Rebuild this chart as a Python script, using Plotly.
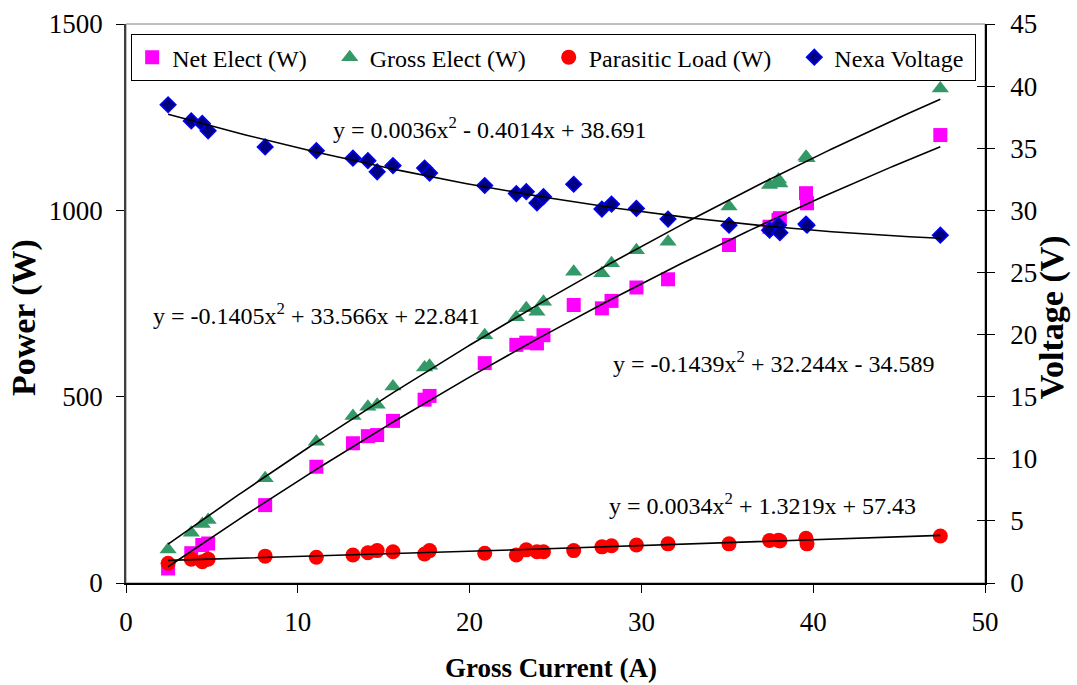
import numpy as np
import plotly.graph_objects as go

# Gross stack current (A), shared by every series
gross_current = [2.45, 3.8, 4.44, 4.78, 8.1, 11.08, 13.21, 14.08, 14.62, 15.54,
                 17.38, 17.67, 20.88, 22.72, 23.3, 23.92, 24.3, 26.06, 27.7, 28.26,
                 29.71, 31.55, 35.1, 37.46, 37.98, 38.06, 39.58, 39.64, 47.4]

# Power series (W)
net_elect = [39, 80, 102, 106, 209, 312, 375, 394, 397, 435,
             492, 502, 590, 639, 645, 643, 665, 746, 737, 757,
             793, 815, 907, 956, 974, 979, 1046, 1019, 1202]
gross_elect = [90, 135, 158, 169, 281, 379, 448, 473, 478, 527,
               578, 583, 665, 713, 737, 728, 755, 835, 831, 858,
               893, 916, 1010, 1068, 1083, 1072, 1144, 1140, 1327]
parasitic_load = [53, 64, 57, 64, 72, 69, 75, 81, 87, 84,
                  78, 87, 80, 75, 89, 84, 84, 87, 97, 100,
                  102, 105, 105, 114, 115, 113, 120, 105, 126]

# Stack voltage (V)
nexa_voltage = [38.5, 37.2, 37.0, 36.4, 35.1, 34.8, 34.2, 34.0, 33.1, 33.6,
                33.4, 33.0, 32.0, 31.35, 31.5, 30.6, 31.1, 32.1, 30.1, 30.5,
                30.15, 29.3, 28.8, 28.4, 28.8, 28.2, 28.9, 28.8, 28.0]

# Second-order trendline coefficients [a, b, c] for y = a x^2 + b x + c
fit_voltage = [0.0036, -0.4014, 38.691]
fit_gross = [-0.1405, 33.566, 22.841]
fit_net = [-0.1439, 32.244, -34.589]
fit_parasitic = [0.0034, 1.3219, 57.43]

x_ticks = [0, 10, 20, 30, 40, 50]
power_ticks = [0, 500, 1000, 1500]
voltage_ticks = [0, 5, 10, 15, 20, 25, 30, 35, 40, 45]

SERIF = "Liberation Serif, Times New Roman, serif"
NB = "\u00a0"


def equation_text(coef):
    a, b, c = coef

    def term(v, first=False):
        s = f"{abs(v):g}"
        if first:
            return ("-" if v < 0 else "") + s
        return (" - " if v < 0 else " + ") + s

    return f"y = {term(a, True)}x<sup>2</sup>{term(b)}x{term(c)}"


xs = np.array(gross_current)
x_fit = np.linspace(xs.min(), xs.max(), 200)

fig = go.Figure()

fig.add_trace(go.Scatter(
    x=gross_current, y=net_elect, mode="markers", name="Net Elect (W)" + NB * 3,
    marker=dict(symbol="square", size=14, color="#FF00FF"), cliponaxis=False))
fig.add_trace(go.Scatter(
    x=gross_current, y=gross_elect, mode="markers", name="Gross Elect (W)" + NB * 3,
    marker=dict(symbol="triangle-up", size=15, color="#339966"), cliponaxis=False))
fig.add_trace(go.Scatter(
    x=gross_current, y=parasitic_load, mode="markers", name="Parasitic Load (W)" + NB * 3,
    marker=dict(symbol="circle", size=15, color="#FF0000"), cliponaxis=False))
fig.add_trace(go.Scatter(
    x=gross_current, y=nexa_voltage, mode="markers", name="Nexa Voltage" + NB, yaxis="y2",
    marker=dict(symbol="diamond", size=12, color="#000080",
                line=dict(color="#0000FF", width=1.5)), cliponaxis=False))

# Trendlines drawn over the markers
for coef, axis in [(fit_net, "y"), (fit_gross, "y"), (fit_parasitic, "y"), (fit_voltage, "y2")]:
    fig.add_trace(go.Scatter(
        x=x_fit, y=np.polyval(coef, x_fit), mode="lines", yaxis=axis,
        line=dict(color="black", width=1.6), showlegend=False, hoverinfo="skip"))

# Invisible carrier so the inner tick marks of the right axis render
fig.add_trace(go.Scatter(x=[None], y=[None], yaxis="y3", showlegend=False, hoverinfo="skip"))

# Trendline equations placed in paper coordinates
eq_labels = [
    (fit_voltage, 0.239, 0.814),
    (fit_gross, 0.029, 0.482),
    (fit_net, 0.565, 0.396),
    (fit_parasitic, 0.560, 0.141),
]
for coef, ax_, ay_ in eq_labels:
    fig.add_annotation(
        text=equation_text(coef), xref="paper", yref="paper", x=ax_, y=ay_,
        xanchor="left", yanchor="middle", showarrow=False,
        font=dict(family=SERIF, size=24, color="black"))

# Axis titles
x_title_font = dict(family=SERIF, size=27, color="black", weight="bold")
y_title_font = dict(family=SERIF, size=34, color="black", weight="bold")
fig.add_annotation(text="<b>Gross Current (A)</b>", xref="paper", yref="paper",
                   x=0.495, y=-0.152, xanchor="center", yanchor="middle",
                   showarrow=False, font=x_title_font)
fig.add_annotation(text="<b>Power (W)</b>", xref="paper", yref="paper",
                   x=-0.118, y=0.475, xanchor="center", yanchor="middle",
                   textangle=-90, showarrow=False, font=y_title_font)
fig.add_annotation(text="<b>Voltage (V)</b>", xref="paper", yref="paper",
                   x=1.079, y=0.475, xanchor="center", yanchor="middle",
                   textangle=-90, showarrow=False, font=y_title_font)

# Plot-area frame
fig.add_shape(type="rect", xref="paper", yref="paper", x0=0, y0=0, x1=1, y1=1,
              line=dict(color="#808080", width=1), layer="below")

tick_font = dict(family=SERIF, size=27, color="black")

fig.update_layout(
    width=1077, height=685,
    margin=dict(l=126, r=92, t=24, b=102),
    paper_bgcolor="white", plot_bgcolor="white",
    showlegend=True,
    legend=dict(
        orientation="h", x=0.006, y=0.982, xanchor="left", yanchor="top",
        bordercolor="black", borderwidth=1, bgcolor="white",
        font=dict(family=SERIF, size=24, color="black"),
        itemwidth=30, tracegroupgap=0,
    ),
    xaxis=dict(
        range=[0, 50], tickvals=x_ticks, ticks="outside", ticklen=8, tickwidth=1,
        tickcolor="black", showline=True, linecolor="black", linewidth=2,
        showgrid=False, zeroline=False, tickfont=tick_font, ticklabelstandoff=6,
        automargin=False,
    ),
    yaxis=dict(
        range=[0, 1500], tickvals=power_ticks, ticks="outside", ticklen=8, tickwidth=1,
        tickcolor="black", showline=True, linecolor="#404040", linewidth=1.5,
        showgrid=False, zeroline=False, tickfont=tick_font, ticklabelstandoff=8,
        automargin=False,
    ),
    yaxis2=dict(
        range=[0, 45], tickvals=voltage_ticks, overlaying="y", side="right",
        ticks="outside", ticklen=8, tickwidth=1, tickcolor="black",
        showline=True, linecolor="black", linewidth=1.5,
        showgrid=False, zeroline=False, tickfont=tick_font, ticklabelstandoff=10,
        automargin=False,
    ),
    yaxis3=dict(
        range=[0, 45], tickvals=voltage_ticks, overlaying="y", side="right",
        ticks="inside", ticklen=8, tickwidth=1, tickcolor="black",
        showticklabels=False, showline=False, showgrid=False, zeroline=False,
        automargin=False,
    ),
)

fig.write_html("out.html")
